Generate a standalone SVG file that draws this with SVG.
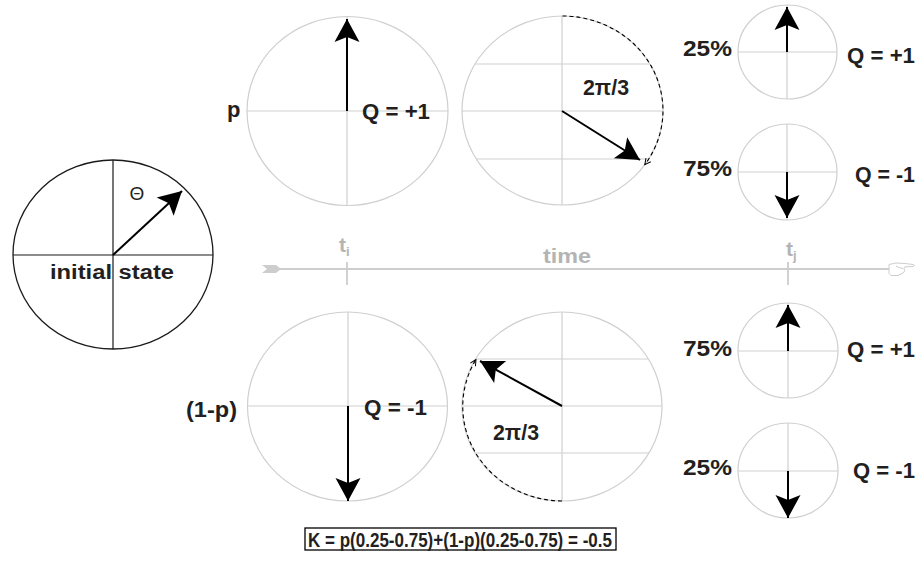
<svg xmlns="http://www.w3.org/2000/svg" width="920" height="563" viewBox="0 0 920 563">
<style>
.bg{fill:#fff}
.ring{fill:none;stroke:#cfcfcf;stroke-width:1.2}
.grid{stroke:#cfcfcf;stroke-width:1.2;fill:none}
.ringk{fill:none;stroke:#1a1a1a;stroke-width:1.3}
.gridk{stroke:#1a1a1a;stroke-width:1.2}
.vec{stroke:#000;stroke-width:2;fill:none;marker-end:url(#ah)}
.arc{stroke:#000;stroke-width:1.1;fill:none;stroke-dasharray:4 3;marker-end:url(#sm)}
.lbl{font-family:"Liberation Sans",Arial,sans-serif;font-weight:bold;font-size:22px;fill:#231f20}
.tl{font-family:"Liberation Sans",Arial,sans-serif;font-weight:bold;fill:#b4b4b4}
.axis{stroke:#cdcdcd;stroke-width:1.8;fill:none}
</style>
<defs>
<marker id="ah" markerUnits="userSpaceOnUse" viewBox="-26 -15 30 30" markerWidth="30" markerHeight="30" refX="0" refY="0" orient="auto">
<path d="M0,0 L-23,-12.5 L-18,0 L-23,12.5 Z" fill="#000"/>
</marker>
<marker id="sm" markerUnits="userSpaceOnUse" viewBox="-9 -5 10 10" markerWidth="10" markerHeight="10" refX="0" refY="0" orient="auto">
<path d="M-6,-3 L0,0 L-6,3" fill="none" stroke="#000" stroke-width="1"/>
</marker>
</defs>
<rect class="bg" x="0" y="0" width="920" height="563"/>

<g id="initial-state">
<ellipse class="ringk" cx="113" cy="254.5" rx="100" ry="94.5"/>
<line class="gridk" x1="13" y1="255" x2="213" y2="255"/>
<line class="gridk" x1="113" y1="160" x2="113" y2="349"/>
<line class="vec" x1="113" y1="255" x2="182" y2="191"/>
<text x="137" y="200" font-family="Liberation Sans, Arial, sans-serif" font-size="19" fill="#231f20" text-anchor="middle">Θ</text>
<text class="lbl" x="50" y="279" style="font-size:20px" textLength="124" lengthAdjust="spacingAndGlyphs">initial state</text>
</g>

<g id="timeline">
<path d="M262,265 L276,265 L281,269 L276,273 L262,273 L267,269 Z" fill="#cdcdcd"/>
<line class="axis" x1="279" y1="269" x2="889" y2="269"/>
<path d="M889,264.5 L896,263 L905,263.5 L913,264.5 Q916,265.5 913,266.5 L905,266.8 L904,268.5 Q906,271 903,273 L898,275.5 L891,275.5 Q888,274 889,270 Z M896,266 Q899,268 903,268.5" fill="#fff" stroke="#cdcdcd" stroke-width="1"/>
<line class="axis" x1="347" y1="262" x2="347" y2="285"/>
<line class="axis" x1="788" y1="262" x2="788" y2="285"/>
<text class="tl" x="339" y="252" style="font-size:21px">t<tspan dy="4" style="font-size:13px">i</tspan></text>
<text class="tl" x="543" y="263" style="font-size:20px" textLength="48" lengthAdjust="spacingAndGlyphs">time</text>
<text class="tl" x="786" y="256" style="font-size:21px">t<tspan dy="4" style="font-size:13px">j</tspan></text>
</g>

<g id="p-up">
<ellipse class="ring" cx="347.5" cy="111" rx="100.5" ry="94.5"/>
<line class="grid" x1="247" y1="111" x2="448" y2="111"/>
<line class="grid" x1="347" y1="17" x2="347" y2="206"/>
<line class="vec" x1="347" y1="111" x2="347" y2="19"/>
<text class="lbl" x="227" y="117">p</text>
<text class="lbl" x="362" y="119" textLength="68" lengthAdjust="spacingAndGlyphs">Q = +1</text>
</g>

<g id="rot-up">
<ellipse class="ring" cx="562.5" cy="110.5" rx="100.5" ry="94.5"/>
<line class="grid" x1="562" y1="16" x2="562" y2="205"/>
<line class="grid" x1="475" y1="64" x2="650" y2="64"/>
<line class="grid" x1="462" y1="111" x2="663" y2="111"/>
<line class="grid" x1="476" y1="159" x2="649" y2="159"/>
<path class="arc" d="M562.5,16 A100.5,94.5 0 0 1 644.8,164.7"/>
<line class="vec" x1="562" y1="111" x2="640" y2="160"/>
<text class="lbl" x="583" y="95" textLength="46" lengthAdjust="spacingAndGlyphs">2π/3</text>
</g>

<g id="up-25">
<ellipse class="ring" cx="787.5" cy="52" rx="49.5" ry="47"/>
<line class="grid" x1="738" y1="52" x2="837" y2="52"/>
<line class="grid" x1="787" y1="5" x2="787" y2="99"/>
<line class="vec" x1="787" y1="52" x2="787" y2="7"/>
<text class="lbl" x="683" y="56" textLength="49" lengthAdjust="spacingAndGlyphs">25%</text>
<text class="lbl" x="847" y="63" textLength="68" lengthAdjust="spacingAndGlyphs">Q = +1</text>
</g>

<g id="up-75">
<ellipse class="ring" cx="787.5" cy="172" rx="49.5" ry="48"/>
<line class="grid" x1="738" y1="172" x2="837" y2="172"/>
<line class="grid" x1="787" y1="124" x2="787" y2="220"/>
<line class="vec" x1="787" y1="172" x2="787" y2="218"/>
<text class="lbl" x="683" y="176" textLength="49" lengthAdjust="spacingAndGlyphs">75%</text>
<text class="lbl" x="855" y="182" textLength="60" lengthAdjust="spacingAndGlyphs">Q = -1</text>
</g>

<g id="p-down">
<ellipse class="ring" cx="347.5" cy="406.5" rx="100" ry="94.5"/>
<line class="grid" x1="248" y1="406" x2="447" y2="406"/>
<line class="grid" x1="348" y1="312" x2="348" y2="501"/>
<line class="vec" x1="348" y1="406" x2="348" y2="501"/>
<text class="lbl" x="186" y="417" textLength="51" lengthAdjust="spacingAndGlyphs">(1-p)</text>
<text class="lbl" x="364" y="415" textLength="63" lengthAdjust="spacingAndGlyphs">Q = -1</text>
</g>

<g id="rot-down">
<ellipse class="ring" cx="562" cy="406.5" rx="100" ry="94.5"/>
<line class="grid" x1="562" y1="312" x2="562" y2="501"/>
<line class="grid" x1="475.6" y1="359" x2="648.4" y2="359"/>
<line class="grid" x1="462" y1="406" x2="662" y2="406"/>
<line class="grid" x1="475" y1="453" x2="649" y2="453"/>
<path class="arc" d="M562,501 A100,94.5 0 0 1 476,359.5"/>
<line class="vec" x1="562" y1="406" x2="480" y2="361"/>
<text class="lbl" x="493" y="440" textLength="46" lengthAdjust="spacingAndGlyphs">2π/3</text>
</g>

<g id="down-75">
<ellipse class="ring" cx="788" cy="350.5" rx="50" ry="47.5"/>
<line class="grid" x1="738" y1="351" x2="838" y2="351"/>
<line class="grid" x1="788" y1="303" x2="788" y2="398"/>
<line class="vec" x1="788" y1="351" x2="788" y2="305"/>
<text class="lbl" x="683" y="356" textLength="49" lengthAdjust="spacingAndGlyphs">75%</text>
<text class="lbl" x="847" y="357" textLength="68" lengthAdjust="spacingAndGlyphs">Q = +1</text>
</g>

<g id="down-25">
<ellipse class="ring" cx="788" cy="470.5" rx="50" ry="47.5"/>
<line class="grid" x1="738" y1="471" x2="838" y2="471"/>
<line class="grid" x1="788" y1="423" x2="788" y2="518"/>
<line class="vec" x1="788" y1="471" x2="788" y2="518"/>
<text class="lbl" x="683" y="475" textLength="49" lengthAdjust="spacingAndGlyphs">25%</text>
<text class="lbl" x="853" y="478" textLength="62" lengthAdjust="spacingAndGlyphs">Q = -1</text>
</g>

<g id="formula">
<rect x="305" y="528" width="311" height="22" fill="none" stroke="#000" stroke-width="1.3"/>
<text class="lbl" x="308" y="547" style="font-size:19.5px" textLength="304" lengthAdjust="spacingAndGlyphs">K = p(0.25-0.75)+(1-p)(0.25-0.75) = -0.5</text>
</g>
</svg>
